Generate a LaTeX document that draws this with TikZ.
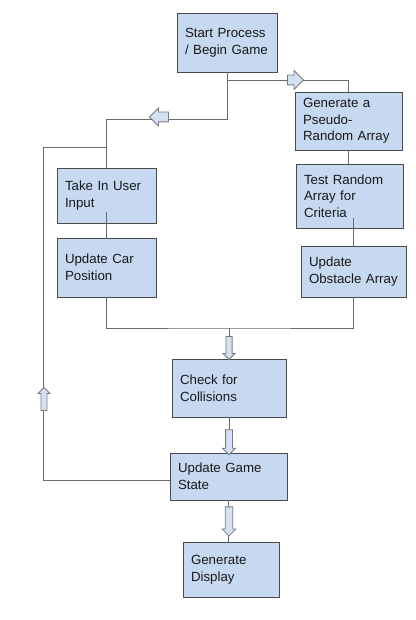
\documentclass[tikz,border=0pt]{standalone}
\usepackage{fontspec}
\setmainfont{Liberation Sans}
\usetikzlibrary{shapes.arrows}
\definecolor{boxblue}{HTML}{C6D9F1}
\definecolor{boxedge}{HTML}{4A4A4A}
\definecolor{linegray}{HTML}{6A6A6A}
\definecolor{arrowedge}{HTML}{7A7A7A}
\definecolor{arrowblue}{HTML}{D2E2F4}

\begin{document}
\begin{tikzpicture}[x=1pt,y=-1pt,
  bx/.style={draw=boxedge,fill=boxblue,line width=0.9pt,align=left,font=\fontsize{13.3}{16.7}\selectfont,text=black!90,inner xsep=8pt,inner ysep=0pt},
  ln/.style={draw=linegray,line width=1pt},
  blk/.style={single arrow,draw=arrowedge,fill=arrowblue,line width=0.8pt,inner xsep=0pt,single arrow head extend=#1}]
\useasboundingbox (0,0) rectangle (415,620);
\node[bx,text width=84pt,minimum height=59pt] (start) at (227,42.5) {Start Process\\/ Begin Game};
\node[bx,text width=91pt,minimum height=58pt] (gen) at (348.5,121) {Generate a\\Pseudo-\\Random Array};
\node[bx,text width=91pt,minimum height=64pt] (test) at (349.5,196) {Test Random\\Array for\\Criteria};
\node[bx,text width=89pt,minimum height=51pt] (obst) at (353.5,271.5) {Update\\Obstacle Array};
\node[bx,text width=83pt,minimum height=55pt] (take) at (106.5,195.5) {Take In User\\Input};
\node[bx,text width=83pt,minimum height=59pt] (car) at (106.5,267.5) {Update Car\\Position};
\node[bx,text width=98pt,minimum height=58pt] (check) at (229,388) {Check for\\Collisions};
\node[bx,text width=101pt,minimum height=47pt] (state) at (228.5,476.5) {Update Game\\State};
\node[bx,text width=80pt,minimum height=55pt] (disp) at (231,569.5) {Generate\\Display};
\coordinate (sr) at (348.5,81);
\coordinate (sl) at (106.5,120);
\coordinate (jn) at (229,328);
\coordinate (lp) at (43,480);
\coordinate (lq) at (43,148);
\draw[ln] (start.south) |- (sr) -- (gen.north);
\draw[ln] (start.south) |- (sl) -- (take.north);
\draw[ln] ([yshift=11pt]take.south) -- (car.north);
\draw[ln] (gen.south) -- (gen.south |- test.north);
\draw[ln] ([yshift=10pt]test.south -| obst.north) -- (obst.north);
\draw[ln] (car.south) |- (jn) -| (obst.south);
\draw[ln] (jn) -- (check.north);
\draw[ln] (check.south) -- (check.south |- state.north);
\draw[ln] (state.south) -- (state.south |- disp.north);
\draw[ln] (state.west |- lp) -- (lp) -- (lq) -- (lq -| take.north);
\node[blk=4.5pt,inner ysep=4.5pt,minimum height=16pt] (ar) at (293,80) {};
\node[blk=4pt,inner ysep=4.5pt,minimum height=19pt,rotate=180] (al) at (161.5,117) {};
\node[blk=3pt,inner ysep=2.7pt,minimum height=23pt,rotate=-90] (ac) at (229,346.5) {};
\node[blk=3pt,inner ysep=3pt,minimum height=25pt,rotate=-90] (as) at (229,440.5) {};
\node[blk=3.2pt,inner ysep=3.3pt,minimum height=29pt,rotate=-90] (ad) at (229,519.5) {};
\node[blk=3pt,inner ysep=2.6pt,minimum height=23pt,rotate=90] (au) at (44,400.5) {};
\end{tikzpicture}
\end{document}
